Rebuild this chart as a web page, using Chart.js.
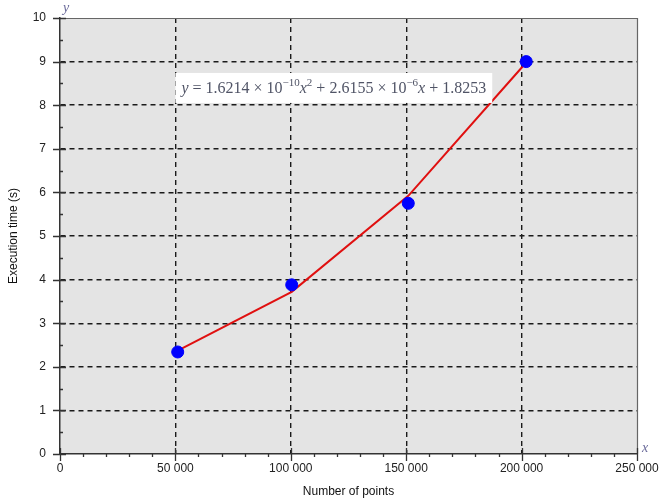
<!DOCTYPE html>
<html>
<head>
<meta charset="utf-8">
<script src="https://cdn.jsdelivr.net/npm/chart.js@4/dist/chart.umd.min.js"></script>
<style>
  html, body { margin: 0; padding: 0; background: #fff; }
  #wrap { width: 663px; height: 502px; position: relative; }
</style>
</head>
<body>
<div id="wrap"><canvas id="chart"></canvas></div>
<script>
// measured points
const sizes = [51000, 100400, 150900, 202000];
const times = [2.34, 3.88, 5.75, 9.0];
// fitted curve
const fitSizes = [51000, 100400, 150900, 202000];
const fitTimes = [2.37, 3.72, 5.92, 8.98];

const xTicks = [0, 50000, 100000, 150000, 200000, 250000];
const yTicks = [0, 1, 2, 3, 4, 5, 6, 7, 8, 9, 10];

// equation label, pieces: [text, style]  (i = italic, s = superscript)
const equation = [
    ['y', 'i'], [' = 1.6214 × 10', ''], ['−10', 's'], ['x', 'i'], ['2', 's'],
    [' + 2.6155 × 10', ''], ['−6', 's'], ['x', 'i'], [' + 1.8253', '']
];

const fmt = v => String(v).replace(/\B(?=(\d{3})+(?!\d))/g, ' ');

const plotDecor = {
    id: 'plotDecor',
    beforeDraw(chart) {
        const { ctx, chartArea: a } = chart;
        ctx.save();
        ctx.fillStyle = '#e4e4e4';
        ctx.fillRect(a.left, a.top, a.right - a.left, a.bottom - a.top);
        ctx.restore();
    },
    afterDatasetsDraw(chart) {
        const { ctx, chartArea: a, scales: { x, y } } = chart;
        ctx.save();
        // frame top / right
        ctx.strokeStyle = '#666';
        ctx.lineWidth = 1.2;
        ctx.beginPath();
        ctx.moveTo(a.left, a.top + 0.5);
        ctx.lineTo(a.right + 0.5, a.top + 0.5);
        ctx.lineTo(a.right + 0.5, a.bottom);
        ctx.stroke();

        // tick marks
        ctx.strokeStyle = '#333';
        ctx.lineWidth = 1.3;
        ctx.beginPath();
        for (let v = 0; v <= 10; v += 0.5) {
            const py = Math.round(y.getPixelForValue(v)) + 0.5;
            const major = Number.isInteger(v);
            ctx.moveTo(a.left - (major ? 7 : 0), py);
            ctx.lineTo(a.left + (major ? 6 : 3), py);
        }
        for (let v = 0; v <= 250000; v += 10000) {
            const px = Math.round(x.getPixelForValue(v)) + 0.5;
            const major = v % 50000 === 0;
            ctx.moveTo(px, a.bottom + (major ? 7 : 3));
            ctx.lineTo(px, a.bottom - (major ? 6 : 0));
        }
        ctx.stroke();

        // axis letters
        ctx.fillStyle = '#6a6a9a';
        ctx.font = 'italic 14px "Liberation Serif"';
        ctx.textBaseline = 'alphabetic';
        ctx.fillText('y', a.left + 3, a.top - 6);
        ctx.fillText('x', a.right + 5, a.bottom - 2);

        // equation box
        const parts = equation.map(([t, s]) => ({
            t, s,
            font: (s === 'i' ? 'italic ' : '') + (s === 's' ? '11px' : '16px') + ' "Liberation Serif"'
        }));
        let w = 0;
        parts.forEach(p => { ctx.font = p.font; p.w = ctx.measureText(p.t).width; w += p.w; });
        const bx = x.getPixelForValue(50000);
        const by = y.getPixelForValue(8.74);
        ctx.fillStyle = '#ffffff';
        ctx.fillRect(bx, by, w + 12, 30);
        ctx.fillStyle = '#505466';
        let cx = bx + 6;
        const base = by + 20;
        parts.forEach(p => {
            ctx.font = p.font;
            ctx.fillText(p.t, cx, p.s === 's' ? base - 7 : base);
            cx += p.w;
        });
        ctx.restore();
    }
};

new Chart(document.getElementById('chart'), {
    type: 'scatter',
    data: {
        datasets: [
            {
                label: 'fit',
                data: fitSizes.map((v, i) => ({ x: v, y: fitTimes[i] })),
                showLine: true,
                borderColor: '#e01010',
                borderWidth: 2,
                pointRadius: 0,
                order: 2
            },
            {
                label: 'measured',
                data: sizes.map((v, i) => ({ x: v, y: times[i] })),
                backgroundColor: '#0000ff',
                borderColor: '#0000ff',
                pointRadius: 6,
                order: 1
            }
        ]
    },
    options: {
        responsive: true,
        maintainAspectRatio: false,
        animation: false,
        layout: { padding: { top: 18, right: 26, left: 0, bottom: 0 } },
        plugins: {
            legend: { display: false },
            tooltip: { enabled: false }
        },
        scales: {
            x: {
                type: 'linear',
                min: 0,
                max: 250000,
                afterFit: s => { s.height = 48; s.paddingLeft = 0; s.paddingRight = 0; },
                afterBuildTicks: s => { s.ticks = xTicks.map(v => ({ value: v })); },
                ticks: {
                    callback: v => fmt(v),
                    color: '#222',
                    font: { family: 'Liberation Sans', size: 12 },
                    padding: 7,
                    maxRotation: 0,
                    autoSkip: false
                },
                grid: {
                    drawTicks: false,
                    color: c => (c.tick && (c.tick.value === 0 || c.tick.value === 250000)) ? 'transparent' : '#1a1a1a',
                    lineWidth: 1.4
                },
                border: { display: true, color: '#333', width: 1.5, dash: [5, 4] },
                title: {
                    display: true,
                    text: 'Number of points',
                    color: '#111',
                    font: { family: 'Liberation Sans', size: 12 },
                    padding: { top: 0, bottom: 3 }
                }
            },
            y: {
                min: 0,
                max: 10,
                afterFit: s => { s.width = 60; s.paddingTop = 0; s.paddingBottom = 0; },
                afterBuildTicks: s => { s.ticks = yTicks.map(v => ({ value: v })); },
                ticks: {
                    color: '#222',
                    font: { family: 'Liberation Sans', size: 12 },
                    padding: 14
                },
                grid: {
                    drawTicks: false,
                    color: c => (c.tick && (c.tick.value === 0 || c.tick.value === 10)) ? 'transparent' : '#1a1a1a',
                    lineWidth: 1.4
                },
                border: { display: true, color: '#333', width: 1.5, dash: [5, 4] },
                title: {
                    display: true,
                    text: 'Execution time (s)',
                    color: '#111',
                    font: { family: 'Liberation Sans', size: 12 },
                    padding: { top: 6, bottom: 0 }
                }
            }
        }
    },
    plugins: [plotDecor]
});
</script>
</body>
</html>
